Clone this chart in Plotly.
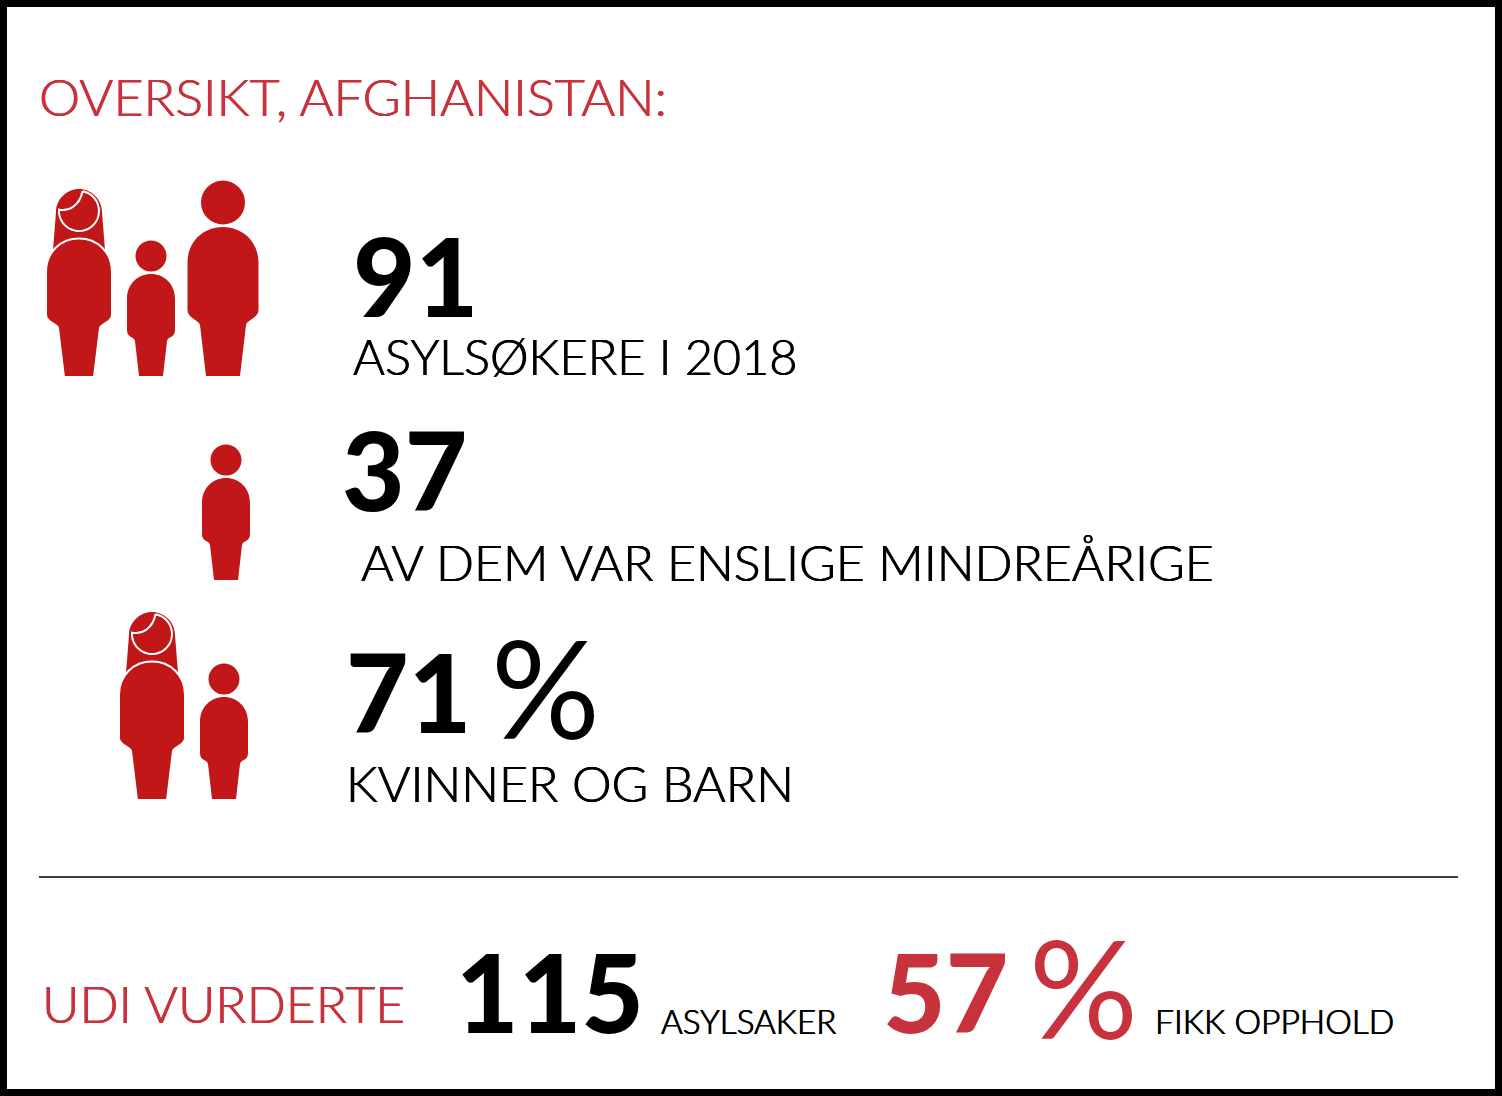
import numpy as np
import plotly.graph_objects as go

# values
figures = [91, 37, 71, 115, 57]
figure_labels = ['ASYLSØKERE I 2018', 'AV DEM VAR ENSLIGE MINDREÅRIGE', 'KVINNER OG BARN', 'ASYLSAKER', 'FIKK OPPHOLD']
title_text = 'OVERSIKT, AFGHANISTAN:'
udi_text = 'UDI VURDERTE'

# where the texts go, in page pixels
figure_x = [351, 340, 344, 454, 881]
figure_y = [275, 469, 691, 991, 991]
figure_size = [108, 108, 108, 108, 108]
figure_color = ['#000000', '#000000', '#000000', '#000000', '#c8323c']
label_x = [351, 359, 344, 659, 1153]
label_y = [356, 562, 783, 1021, 1021]
label_size = [48.7, 50, 50, 33.2, 33.6]
percent_x = [489, 1027]
percent_y = [686, 986]
percent_color = ['#000000', '#c8323c']

ICON_RED = '#c21718'
TEXT_RED = '#c8323c'
FONT = 'Lato'

shapes = []


def circle(cx, cy, r):
    return dict(type='circle', x0=cx - r, x1=cx + r, y0=cy - r, y1=cy + r,
                fillcolor=ICON_RED, line_width=0)


def body(cx, top, hw, shoulder, waist, hip, leg, foot, bottom):
    p = f'M{cx-foot},{bottom} L{cx-leg},{hip} '
    p += f'C{cx-leg-1},{hip-5} {cx-hw},{waist+5} {cx-hw},{waist-3} '
    p += f'L{cx-hw},{shoulder} C{cx-hw},{shoulder-(shoulder-top)*.6} {cx-hw*.55},{top} {cx},{top} '
    p += f'C{cx+hw*.55},{top} {cx+hw},{shoulder-(shoulder-top)*.6} {cx+hw},{shoulder} '
    p += f'L{cx+hw},{waist-3} C{cx+hw},{waist+5} {cx+leg+1},{hip-5} {cx+leg},{hip} L{cx+foot},{bottom} Z'
    return p


def man(cx, dy=0):
    shapes.append(circle(cx, 202.5 + dy, 22))
    shapes.append(dict(type='path', path=body(cx, 227 + dy, 35.5, 263 + dy, 313 + dy, 325 + dy, 23, 17, 376 + dy),
                       fillcolor=ICON_RED, line_width=0))


def child(cx, dy=0):
    shapes.append(circle(cx, 256 + dy, 15.5))
    shapes.append(dict(type='path', path=body(cx, 274 + dy, 24, 299 + dy, 333 + dy, 341 + dy, 16, 12, 376 + dy),
                       fillcolor=ICON_RED, line_width=0))


def woman(cx, dy=0):
    hair = (f'M{cx-26},{250+dy} L{cx-23},{212+dy} C{cx-23},{199+dy} {cx-12},{189+dy} {cx},{189+dy} '
            f'C{cx+12},{189+dy} {cx+23},{199+dy} {cx+23},{212+dy} L{cx+26},{250+dy} Z')
    shapes.append(dict(type='path', path=hair, fillcolor=ICON_RED, line_width=0))
    # face outline: open circle, closed by the fringe curve
    a = np.radians(np.arange(-80, 185, 8))
    fy = 211 + dy
    pts = [f'{cx + 20 * np.cos(t):.1f},{fy + 20 * np.sin(t):.1f}' for t in a]
    face = 'M' + ' L'.join(pts) + f' C{cx-10},{fy+1} {cx+1},{fy-6} {pts[0]}'
    shapes.append(dict(type='path', path=face, line=dict(color='white', width=2)))
    shapes.append(dict(type='path', path=body(cx, 238.5 + dy, 33, 272 + dy, 318 + dy, 328 + dy, 21, 15, 377 + dy),
                       fillcolor=ICON_RED, line=dict(color='white', width=2)))


# frame and rule
shapes.append(dict(type='rect', x0=7, x1=1495, y0=7, y1=1089, fillcolor='white', line_width=0, layer='below'))
shapes.append(dict(type='line', x0=39, x1=1458, y0=877, y1=877, line=dict(color='#000000', width=1.5)))

woman(79)
child(151)
man(223)
child(226, 204)
woman(152, 423)
child(224, 423)

# the light weight alone is thinner than the reference, a soft shadow fattens it a little
red_shadow = '0.5px 0 0 #c8323c, -0.5px 0 0 #c8323c'
black_shadow = '0.5px 0 0 #000000, -0.5px 0 0 #000000'

annotations = [
    dict(text=title_text, x=37, y=96, font=dict(size=52, color=TEXT_RED, weight=300, shadow=red_shadow)),
    dict(text=udi_text, x=40, y=1003, font=dict(size=51.5, color=TEXT_RED, weight=300, shadow=red_shadow)),
]
for i in range(len(figures)):
    annotations.append(dict(text=str(figures[i]), x=figure_x[i], y=figure_y[i],
                            font=dict(size=figure_size[i], color=figure_color[i], weight=900)))
    annotations.append(dict(text=figure_labels[i], x=label_x[i], y=label_y[i],
                            font=dict(size=label_size[i], color='#000000', weight=300, shadow=black_shadow)))
for i in range(len(percent_x)):
    annotations.append(dict(text='%', x=percent_x[i], y=percent_y[i],
                            font=dict(size=136, color=percent_color[i], weight=400)))
for a in annotations:
    a.update(xref='x', yref='y', xanchor='left', yanchor='middle', showarrow=False)

fig = go.Figure()
fig.update_layout(
    width=1502, height=1096,
    margin=dict(l=0, r=0, t=0, b=0),
    paper_bgcolor='black',
    plot_bgcolor='black',
    font=dict(family=FONT),
    showlegend=False,
    shapes=shapes,
    annotations=annotations,
    xaxis=dict(range=[0, 1502], visible=False, fixedrange=True),
    yaxis=dict(range=[1096, 0], visible=False, fixedrange=True),
)

fig.write_html('out.html', config=dict(displayModeBar=False),
               post_script="document.body.style.margin='0';")
